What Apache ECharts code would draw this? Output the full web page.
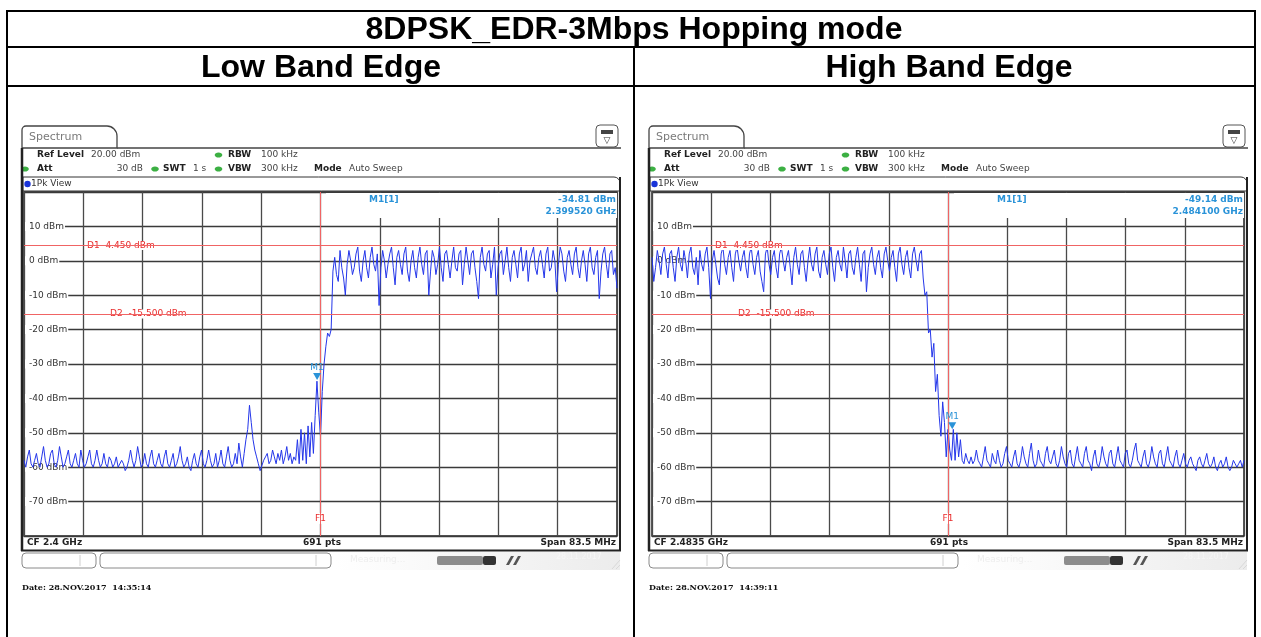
<!DOCTYPE html>
<html><head><meta charset="utf-8">
<script src="https://cdn.jsdelivr.net/npm/echarts/dist/echarts.min.js"></script>
<style>html,body{margin:0;padding:0;background:#fff;}#c{width:1261px;height:637px;}</style>
</head><body><div id="c"></div>
<script>
// ---------- data ----------
const SPAN_MHZ = 83.5;
const STEP_MHZ = 0.25;             // sweep sample spacing used for the traces below
const lowStartMHz = 2358.25;       // CF 2.4 GHz - span/2
const highStartMHz = 2441.75;      // CF 2.4835 GHz - span/2
const lowLevels = [
 -58,-60,-57,-55,-59,-60,-58,-56,-59,-60,
 -57,-54,-58,-60,-59,-56,-55,-59,-60,-58,
 -54,-57,-60,-59,-57,-55,-59,-60,-58,-56,
 -59,-60,-55,-58,-60,-59,-57,-55,-59,-60,
 -58,-55,-58,-60,-59,-56,-59,-60,-57,-58,
 -60,-59,-57,-60,-60,-58,-59,-61,-60,-58,
 -55,-58,-60,-58,-54,-57,-60,-59,-56,-59,
 -60,-57,-55,-59,-60,-58,-56,-59,-60,-57,
 -55,-59,-60,-58,-56,-60,-59,-57,-54,-58,
 -60,-59,-57,-60,-61,-58,-56,-59,-60,-57,
 -55,-59,-60,-58,-55,-58,-60,-59,-56,-60,
 -58,-55,-59,-60,-57,-54,-58,-60,-59,-56,
 -59,-53,-57,-60,-56,-52,-49,-42,-47,-52,
 -55,-57,-59,-61,-61,-58,-57,-56,-59,-58,
 -55,-57,-59,-56,-58,-55,-59,-57,-54,-58,
 -56,-59,-57,-58,-52,-59,-49,-58,-50,-59,
 -48,-57,-47,-56,-45,-35,-44,-51,-38,-30,
 -25,-21,-22,-20,-3,1,-4,-6,3,-2,
 -5,-10,-1,3,0,-4,-2,2,4,-3,
 -6,0,3,-2,-5,1,4,-1,-3,2,
 -13,-2,3,0,-5,-1,2,4,-2,-7,
 1,3,-1,-4,2,4,-3,-6,0,3,
 -2,-5,1,4,-1,-4,2,3,-10,-3,
 3,1,-4,-1,4,-2,-6,2,3,-1,
 -5,0,4,-2,-3,2,3,-7,-1,4,
 0,-4,2,3,-2,-6,-11,1,4,-1,
 -3,2,3,-5,-1,4,-10,-2,2,3,
 -4,0,4,-2,-6,1,3,-1,-5,2,
 4,-3,-1,3,-6,0,2,4,-2,-4,
 1,3,-1,-5,2,4,-3,-2,3,0,
 -9,-1,4,2,-3,-6,1,3,-1,-4,
 2,4,-2,-5,0,3,-1,-6,2,4,
 -2,-4,1,3,-11,-3,2,4,-1,-5,
 2,3,-4,-2,-8
];
const highLevels = [
 1,-6,-2,3,0,-4,2,4,-1,-5,
 2,3,-2,-6,1,4,-1,-3,3,0,
 -5,2,4,-2,-4,1,-7,3,-1,-3,
 2,4,-2,-11,0,3,-1,-5,-7,2,
 4,-1,-4,1,3,-2,-6,2,4,0,
 -3,1,3,-2,-5,2,4,-1,-4,1,
 3,-3,-6,-9,2,4,-1,-4,1,3,
 -2,-5,2,4,0,-3,1,3,-2,-7,
 1,4,-1,-4,2,3,-2,-6,0,4,
 -1,-3,2,4,-3,-5,1,3,-1,-4,
 2,4,-2,-6,1,3,-1,-3,4,0,
 -5,2,3,-2,-4,1,4,-1,-6,2,
 3,-9,-2,2,4,-1,-4,1,3,-2,
 -5,2,4,0,-3,1,3,-2,-6,2,
 4,-1,-4,1,3,-2,-5,2,4,0,
 -3,2,3,-5,-10,-9,-21,-20,-28,-24,
 -38,-33,-45,-51,-41,-47,-57,-49,-55,-58,
 -49,-58,-50,-57,-52,-58,-59,-56,-58,-59,
 -57,-59,-58,-55,-58,-59,-60,-57,-54,-58,
 -59,-60,-56,-58,-59,-55,-58,-60,-59,-56,
 -54,-58,-59,-60,-57,-55,-59,-60,-58,-54,
 -57,-59,-60,-56,-53,-58,-60,-59,-55,-58,
 -59,-60,-56,-54,-58,-59,-57,-55,-59,-60,
 -58,-54,-57,-59,-60,-56,-55,-59,-60,-57,
 -54,-58,-59,-60,-56,-54,-58,-59,-61,-57,
 -55,-59,-60,-58,-54,-57,-59,-60,-56,-55,
 -59,-60,-57,-54,-58,-59,-60,-56,-55,-59,
 -60,-58,-55,-53,-58,-59,-60,-57,-55,-59,
 -60,-58,-54,-57,-59,-60,-56,-55,-59,-60,
 -57,-54,-58,-59,-60,-57,-55,-59,-60,-58,
 -56,-59,-60,-58,-57,-59,-60,-61,-58,-57,
 -59,-60,-58,-56,-59,-60,-59,-57,-60,-61,
 -59,-58,-60,-59,-57,-60,-61,-60,-58,-59,
 -60,-59,-58,-60,-58
];
const displayLinesDbm = [4.45, -15.5];        // D1, D2
const centerFreqsMHz = [2400, 2483.5];        // F1 lines
const markerFreqsMHz = [2399.52, 2484.1];     // M1
const markerLevelsDbm = [-34.81, -49.14];
const markerTexts = [['-34.81 dBm','2.399520 GHz'], ['-49.14 dBm','2.484100 GHz']];
const cfTexts = ['CF 2.4 GHz', 'CF 2.4835 GHz'];
const dateTexts = ['Date: 28.NOV.2017  14:35:14', 'Date: 28.NOV.2017  14:39:11'];
const yMin = -80, yMax = 20, yStep = 10;

// ---------- chart ----------
const chart = echarts.init(document.getElementById('c'), null, {renderer:'canvas'});
const starts = [lowStartMHz, highStartMHz];
const traces = [lowLevels, highLevels];
const gridDefs = [{left:24, top:192, width:593, height:344}, {left:652, top:192, width:592, height:344}];
const FONT = '"DejaVu Sans", Verdana, sans-serif';

const xAxes = [], yAxes = [], series = [];
gridDefs.forEach((g, k) => {
  xAxes.push({type:'value', gridIndex:k, min:0, max:SPAN_MHZ, interval:SPAN_MHZ/10,
    axisLabel:{show:false}, axisTick:{show:false}, axisLine:{show:false},
    splitLine:{show:true, lineStyle:{color:'#4a4a4a', width:1.3}}});
  yAxes.push({type:'value', gridIndex:k, min:yMin, max:yMax, interval:yStep, position:'left', z:0,
    axisLabel:{show:false}, axisTick:{show:false}, axisLine:{show:false},
    splitLine:{show:true, lineStyle:{color:'#3a3a3a', width:1.3}}});
  yAxes.push({type:'value', gridIndex:k, min:yMin, max:yMax, interval:yStep, position:'left', z:1,
    axisTick:{show:false}, axisLine:{show:false}, splitLine:{show:false},
    axisLabel:{inside:true, margin:1, fontSize:9, fontFamily:FONT, color:'#333',
      backgroundColor:'#fff', padding:[0,1,0,4], showMinLabel:false, showMaxLabel:false,
      formatter: v => v + ' dBm'}});
  series.push({
    type:'line', xAxisIndex:k, yAxisIndex:2*k, z:2, showSymbol:false, animation:false, silent:true,
    lineStyle:{color:'#2436ea', width:1},
    data: traces[k].map((v,i) => [i*STEP_MHZ, v]),
    markLine:{silent:true, symbol:'none', animation:false, label:{show:false},
      lineStyle:{color:'#f06464', width:1, type:'solid'},
      data:[{yAxis:displayLinesDbm[0]},{yAxis:displayLinesDbm[1]},{xAxis:centerFreqsMHz[k]-starts[k]}]},
    markPoint:{silent:true, animation:false,
      data:[{coord:[markerFreqsMHz[k]-starts[k], markerLevelsDbm[k]], symbol:'triangle', symbolRotate:180,
        symbolSize:[8,7], symbolOffset:[0,-4], itemStyle:{color:'#2a93d8'},
        label:{show:true, formatter:'M1', position:'top', distance:1, color:'#2a93d8', fontSize:9, fontFamily:FONT}}]}
  });
});

chart.setOption({
  animation:false,
  textStyle:{fontFamily:FONT},
  grid: gridDefs.map(g => Object.assign({show:true, borderColor:'#222', borderWidth:1.5, backgroundColor:'#fff'}, g)),
  xAxis:xAxes, yAxis:yAxes, series:series
});

// ---------- decorations ----------
const G = [];
function T(x,y,text,o={}) {
  G.push({type:'text', x, y, z:o.z||6, silent:true, style:{text, fill:o.fill||'#222',
    font:o.font||('9px '+FONT), textAlign:o.align||'left', align:o.align||'left',
    textVerticalAlign:'middle', verticalAlign:'middle',
    backgroundColor:o.bg, padding:o.pad}});
}
function L(x1,y1,x2,y2,stroke,w,z) {
  G.push({type:'line', z:z||6, silent:true, shape:{x1,y1,x2,y2}, style:{stroke, lineWidth:w}});
}
function R(x,y,w,h,o) {
  G.push({type:'rect', z:o.z||5, silent:true, shape:{x,y,width:w,height:h,r:o.r||0},
    style:{fill:o.fill||'transparent', stroke:o.stroke||null, lineWidth:o.lw||1}});
}
function E(cx,cy,fill) {
  G.push({type:'ellipse', z:6, silent:true, shape:{cx,cy,rx:3.8,ry:2.6}, style:{fill}});
}
const B9 = 'bold 9px '+FONT, N9 = '9px '+FONT;
const HF = 'bold 32px "Liberation Sans", Arial, sans-serif';

// table
L(7,11,1255,11,'#000',2,1); L(7,47,1255,47,'#000',2,1); L(7,86,1255,86,'#000',2,1);
L(7,10,7,637,'#000',2,1); L(1255,10,1255,637,'#000',2,1); L(634,47,634,637,'#000',2,1);
T(634,30,'8DPSK_EDR-3Mbps Hopping mode',{align:'center', font:HF, fill:'#000'});
T(321,68,'Low Band Edge',{align:'center', font:HF, fill:'#000'});
T(949,68,'High Band Edge',{align:'center', font:HF, fill:'#000'});

[0, 627].forEach((o, k) => {
  R(22+o,126,95,22,{r:[4,10,0,0], stroke:'#444', lw:1.3, fill:'#fff'});
  T(29+o,137,'Spectrum',{fill:'#7a7a7a', font:'11px '+FONT});
  L(117+o,148,621+o,148,'#444',1.3);
  R(596+o,125,22,22,{r:4, stroke:'#555', lw:1, fill:'#fff'});
  R(601+o,130,12,4,{fill:'#444', z:6});
  T(607+o,141,'\u25BD',{align:'center', font:'9px '+FONT, fill:'#333'});
  T(37+o,155,'Ref Level',{font:B9}); T(91+o,155,'20.00 dBm',{font:N9, fill:'#444'});
  E(218.5+o,155,'#3cb043'); T(228+o,155,'RBW',{font:B9}); T(261+o,155,'100 kHz',{font:N9, fill:'#444'});
  E(25+o,169,'#3cb043'); T(37+o,169,'Att',{font:B9}); T(143+o,169,'30 dB',{font:N9, fill:'#444', align:'right'});
  E(155+o,169,'#3cb043'); T(163+o,169,'SWT',{font:B9}); T(193+o,169,'1 s',{font:N9, fill:'#444'});
  E(218.5+o,169,'#3cb043'); T(228+o,169,'VBW',{font:B9}); T(261+o,169,'300 kHz',{font:N9, fill:'#444'});
  T(314+o,169,'Mode',{font:B9}); T(349+o,169,'Auto Sweep',{font:N9, fill:'#444'});
  R(23+o,177,597,14,{r:[0,6,0,0], stroke:'#333', lw:1, fill:'#fff'});
  G.push({type:'circle', z:6, silent:true, shape:{cx:27.5+o, cy:184, r:3.2}, style:{fill:'#1a34d8'}});
  T(31+o,184,'1Pk View',{font:N9, fill:'#333'});
  L(22+o,148,22+o,551,'#222',2.5); L(620+o,177,620+o,551,'#222',2); L(21+o,550.5,621+o,550.5,'#222',2);
  T(27+o,543,cfTexts[k],{font:B9}); T(322+o,543,'691 pts',{font:B9, align:'center'});
  T(616+o,543,'Span 83.5 MHz',{font:B9, align:'right'});
  R(22+o,553,74,15,{r:4, stroke:'#8a8a8a', lw:1, fill:'#fff'}); L(80+o,555,80+o,566,'#d0d0d0',1);
  R(100+o,553,231,15,{r:4, stroke:'#8a8a8a', lw:1, fill:'#fff'}); L(316+o,555,316+o,566,'#d0d0d0',1);
  G.push({type:'rect', z:4, silent:true, shape:{x:336+o,y:552,width:284,height:18},
    style:{fill:new echarts.graphic.LinearGradient(0,0,1,0,[{offset:0,color:'#ffffff'},{offset:1,color:'#ececec'}])}});
  T(350+o,560,'Measuring...',{font:N9, fill:'#eeeeee'});
  R(437+o,556,46,9,{fill:'#8c8c8c', r:2, z:6}); R(483+o,556,13,9,{fill:'#333', r:2, z:6});
  G.push({type:'polygon', z:6, silent:true, shape:{points:[[506+o,565],[511+o,556],[514+o,556],[509+o,565]]}, style:{fill:'#555'}});
  G.push({type:'polygon', z:6, silent:true, shape:{points:[[513+o,565],[518+o,556],[521+o,556],[516+o,565]]}, style:{fill:'#555'}});
  T(556+o,557,'28.11.2017',{font:'8px '+FONT, fill:'#f6f6f6'});
  L(612+o,569,620+o,560,'#d8d8d8',1); L(616+o,569,620+o,565,'#d8d8d8',1);
  T(22+o,588,dateTexts[k],{font:'bold 8px "DejaVu Serif", serif', fill:'#111'});

  const gx = gridDefs[k].left, gw = gridDefs[k].width;
  R(gx+302,193,gw-302,25,{fill:'#fff', z:3});
  T(gx+345,200,'M1[1]',{font:B9, fill:'#2a93d8'});
  T(gx+gw-1,200,markerTexts[k][0],{font:B9, fill:'#2a93d8', align:'right'});
  T(gx+gw-1,212,markerTexts[k][1],{font:B9, fill:'#2a93d8', align:'right'});

  const d1 = chart.convertToPixel({gridIndex:k}, [0, displayLinesDbm[0]]);
  const d2 = chart.convertToPixel({gridIndex:k}, [0, displayLinesDbm[1]]);
  const f1 = chart.convertToPixel({gridIndex:k}, [centerFreqsMHz[k]-starts[k], -74]);
  const red = '#e82c2c';
  T(d1[0]+62,d1[1],'D1  4.450 dBm',{font:N9, fill:red, bg:'#fff', pad:[0,1,0,1], z:4});
  T(d2[0]+85,d2[1],'D2  -15.500 dBm',{font:N9, fill:red, bg:'#fff', pad:[0,1,0,1], z:4});
  T(f1[0],f1[1]+3,'F1',{font:N9, fill:red, bg:'#fff', pad:[1,1,1,1], align:'center', z:4});
});

chart.setOption({graphic:{elements:G}});
</script>
</body></html>
